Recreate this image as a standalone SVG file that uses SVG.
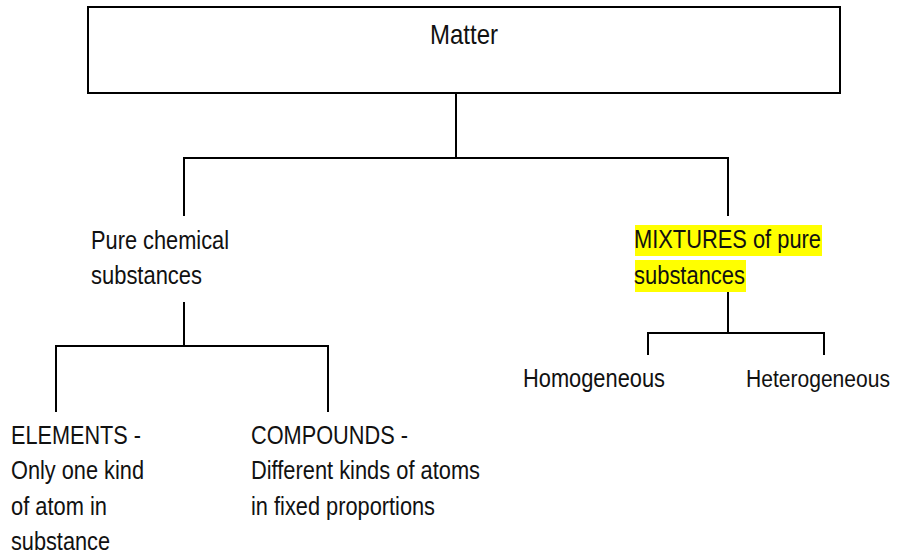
<svg xmlns="http://www.w3.org/2000/svg" width="898" height="554" viewBox="0 0 898 554">
<style>
.ln{stroke:#000;stroke-width:2;fill:none;stroke-linecap:square}
.t{font-family:"Liberation Sans Narrow","Arial Narrow","Liberation Sans",Arial,sans-serif;font-size:25px;fill:#111}
.hl{fill:#ffff00}
</style>
<rect width="898" height="554" fill="#fff"/>
<g id="matter">
<rect x="88" y="7" width="752" height="86" fill="#fff" stroke="#000" stroke-width="2"/>
<text class="t" x="430" y="44" style="font-size:28px" textLength="68" lengthAdjust="spacingAndGlyphs">Matter</text>
</g>
<g id="connectors">
<path class="ln" d="M456 93V158M184 158H728M184 158V215M728 158V215"/>
<path class="ln" d="M184 303V346M56 346H328M56 346V411M328 346V411"/>
<path class="ln" d="M728 290V333M648 333H824M648 333V354M824 333V354"/>
</g>
<g id="pure">
<text class="t" x="91" y="249" textLength="138" lengthAdjust="spacingAndGlyphs">Pure chemical</text>
<text class="t" x="91" y="284" textLength="111" lengthAdjust="spacingAndGlyphs">substances</text>
</g>
<g id="mixtures">
<rect class="hl" x="635" y="225" width="187" height="31"/>
<rect class="hl" x="635" y="260" width="111" height="32"/>
<text class="t" x="634" y="248" textLength="187" lengthAdjust="spacingAndGlyphs">MIXTURES of pure</text>
<text class="t" x="634" y="284" textLength="111" lengthAdjust="spacingAndGlyphs">substances</text>
</g>
<g id="homogeneous">
<text class="t" x="523" y="387" textLength="142" lengthAdjust="spacingAndGlyphs">Homogeneous</text>
</g>
<g id="heterogeneous">
<text class="t" x="746" y="387" style="font-size:23px" textLength="144" lengthAdjust="spacingAndGlyphs">Heterogeneous</text>
</g>
<g id="elements">
<text class="t" x="11" y="444" textLength="130" lengthAdjust="spacingAndGlyphs">ELEMENTS -</text>
<text class="t" x="11" y="479" textLength="133" lengthAdjust="spacingAndGlyphs">Only one kind</text>
<text class="t" x="11" y="515" textLength="96" lengthAdjust="spacingAndGlyphs">of atom in</text>
<text class="t" x="11" y="550" textLength="99" lengthAdjust="spacingAndGlyphs">substance</text>
</g>
<g id="compounds">
<text class="t" x="251" y="444" textLength="157" lengthAdjust="spacingAndGlyphs">COMPOUNDS -</text>
<text class="t" x="251" y="479" textLength="229" lengthAdjust="spacingAndGlyphs">Different kinds of atoms</text>
<text class="t" x="251" y="515" textLength="184" lengthAdjust="spacingAndGlyphs">in fixed proportions</text>
</g>
</svg>
